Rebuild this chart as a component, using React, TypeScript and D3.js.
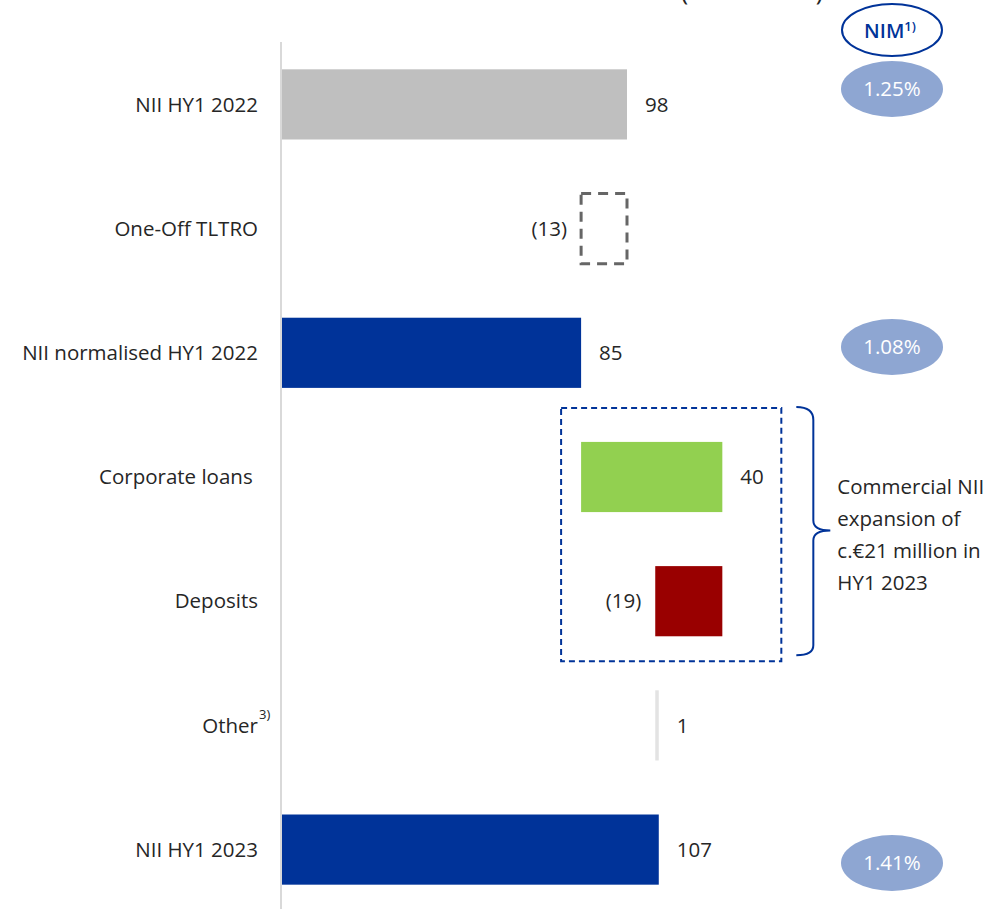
import * as d3 from 'd3'
import { useEffect, useRef } from 'react'

const categories = [
  'NII HY1 2022',
  'One-Off TLTRO',
  'NII normalised HY1 2022',
  'Corporate loans ',
  'Deposits',
  'Other',
  'NII HY1 2023',
]
const values = [98, -13, 85, 40, -19, 1, 107]
const kinds = ['total', 'delta', 'total', 'delta', 'delta', 'delta', 'total']
const valueLabels = ['98', '(13)', '85', '40', '(19)', '1', '107']
const barColors = ['#bfbfbf', 'none', '#003399', '#92d050', '#990000', '#e3e3e3', '#003399']
const nimRows = [0, 2, 6]
const nimValues = ['1.25%', '1.08%', '1.41%']
const noteLines = ['Commercial NII', 'expansion of', 'c.€21 million in', 'HY1 2023']

const W = 992
const H = 909
const FONT = "'Open Sans', 'Noto Sans', sans-serif"
const TEXT = '#262626'
const BLUE = '#003399'
const FS = 20.5

interface Step {
  name: string
  start: number
  end: number
  label: string
  color: string
}

const App = () => {
  const ref = useRef<HTMLDivElement>(null)

  useEffect(() => {
    document.body.style.margin = '0'
    const root = ref.current
    if (!root || root.querySelector('svg')) return

    // running total for the waterfall
    let run = 0
    const steps: Step[] = categories.map((name, i) => {
      let start: number, end: number
      if (kinds[i] === 'total') {
        start = 0
        end = values[i]
        run = values[i]
      } else {
        start = run
        end = run + values[i]
        run = end
      }
      return { name, start, end, label: valueLabels[i], color: barColors[i] }
    })

    const x = d3.scaleLinear().domain([0, 98]).range([281, 627])
    const y = d3.scaleBand().domain(categories).range([42, 912]).paddingInner(0.435).paddingOuter(0.22)
    const yNim = d3.scaleLinear().domain([0, 6]).range([89, 863])

    const svg = d3
      .select(root)
      .append('svg')
      .attr('width', W)
      .attr('height', H)
      .style('display', 'block')
      .style('font-family', FONT)

    // title, clipped at the top edge as in the slide
    svg
      .append('text')
      .attr('x', 752)
      .attr('y', 0)
      .attr('text-anchor', 'middle')
      .attr('font-size', 25)
      .attr('fill', TEXT)
      .text('(in € million)')

    // vertical axis
    svg
      .append('line')
      .attr('x1', x(0))
      .attr('x2', x(0))
      .attr('y1', 42)
      .attr('y2', H)
      .attr('stroke', '#d9d9d9')
      .attr('stroke-width', 2)

    const bw = y.bandwidth()

    // bars
    svg
      .selectAll('rect.bar')
      .data(steps)
      .join('rect')
      .attr('class', 'bar')
      .attr('x', (d) => x(Math.min(d.start, d.end)) + (d.start === 0 ? 1 : 0))
      .attr('y', (d) => y(d.name)!)
      .attr('width', (d) => Math.max(3, Math.abs(x(d.end) - x(d.start))) - (d.start === 0 ? 1 : 0))
      .attr('height', bw)
      .attr('fill', (d) => d.color)
      .attr('stroke', (d) => (d.color === 'none' ? '#666666' : 'none'))
      .attr('stroke-width', 3)
      .attr('stroke-dasharray', '10 7')

    // value labels
    svg
      .selectAll('text.val')
      .data(steps)
      .join('text')
      .attr('class', 'val')
      .attr('x', (d) => (d.end >= d.start ? x(d.end) + 18 : x(d.end) - 14))
      .attr('y', (d) => y(d.name)! + bw / 2)
      .attr('dy', '0.35em')
      .attr('text-anchor', (d) => (d.end >= d.start ? 'start' : 'end'))
      .attr('font-size', FS)
      .attr('fill', TEXT)
      .text((d) => d.label)

    // category labels
    svg
      .selectAll('text.cat')
      .data(steps)
      .join('text')
      .attr('class', 'cat')
      .attr('x', 258)
      .attr('y', (d) => y(d.name)! + bw / 2)
      .attr('dy', '0.35em')
      .attr('text-anchor', 'end')
      .attr('font-size', FS)
      .attr('fill', TEXT)
      .style('white-space', 'pre')
      .text((d) => d.name)

    svg
      .append('text')
      .attr('x', 259)
      .attr('y', y('Other')! + bw / 2 - 6)
      .attr('font-size', 13)
      .attr('fill', TEXT)
      .text('3)')

    // dashed box around the commercial drivers
    const boxTop = y('Corporate loans ')! - 34
    const boxBottom = y('Deposits')! + bw + 25
    const boxLeft = x(85) - 20
    const boxRight = x(125) + 59
    svg
      .append('rect')
      .attr('x', boxLeft)
      .attr('y', boxTop)
      .attr('width', boxRight - boxLeft)
      .attr('height', boxBottom - boxTop)
      .attr('fill', 'none')
      .attr('stroke', BLUE)
      .attr('stroke-width', 2)
      .attr('stroke-dasharray', '6 4')

    // brace
    const bx = boxRight + 15
    const bm = (boxTop + boxBottom) / 2 - 4
    const brace = d3.path()
    brace.moveTo(bx, boxTop - 1)
    brace.quadraticCurveTo(bx + 17, boxTop - 1, bx + 17, boxTop + 12)
    brace.lineTo(bx + 17, bm - 10)
    brace.quadraticCurveTo(bx + 17, bm, bx + 34, bm)
    brace.quadraticCurveTo(bx + 17, bm, bx + 17, bm + 10)
    brace.lineTo(bx + 17, boxBottom - 16)
    brace.quadraticCurveTo(bx + 17, boxBottom - 6, bx, boxBottom - 6)
    svg
      .append('path')
      .attr('d', brace.toString())
      .attr('fill', 'none')
      .attr('stroke', BLUE)
      .attr('stroke-width', 2)

    svg
      .selectAll('text.note')
      .data(noteLines)
      .join('text')
      .attr('class', 'note')
      .attr('x', bx + 41)
      .attr('y', (_, i) => bm - 44 + i * 32)
      .attr('dy', '0.35em')
      .attr('font-size', FS)
      .attr('fill', TEXT)
      .text((d) => d)

    // NIM column
    const nimX = 892
    svg
      .append('ellipse')
      .attr('cx', nimX)
      .attr('cy', 30)
      .attr('rx', 50)
      .attr('ry', 26)
      .attr('fill', 'white')
      .attr('stroke', BLUE)
      .attr('stroke-width', 2)
    const nimHead = svg
      .append('text')
      .attr('x', nimX - 2)
      .attr('y', 31)
      .attr('dy', '0.35em')
      .attr('text-anchor', 'middle')
      .attr('font-size', 20)
      .attr('font-weight', 600)
      .attr('fill', BLUE)
    nimHead.append('tspan').text('NIM')
    nimHead.append('tspan').attr('font-size', 13).attr('dy', '-0.55em').text('1)')

    const nim = svg
      .selectAll('g.nim')
      .data(nimRows)
      .join('g')
      .attr('class', 'nim')
      .attr('transform', (d) => `translate(${nimX},${yNim(d)})`)
    nim.append('ellipse').attr('rx', 51).attr('ry', 28).attr('fill', '#8ea6d2')
    nim
      .append('text')
      .attr('dy', '0.35em')
      .attr('text-anchor', 'middle')
      .attr('font-size', FS)
      .attr('fill', 'white')
      .text((_, i) => nimValues[i])
  }, [])

  return <div ref={ref}></div>
}

export default App
